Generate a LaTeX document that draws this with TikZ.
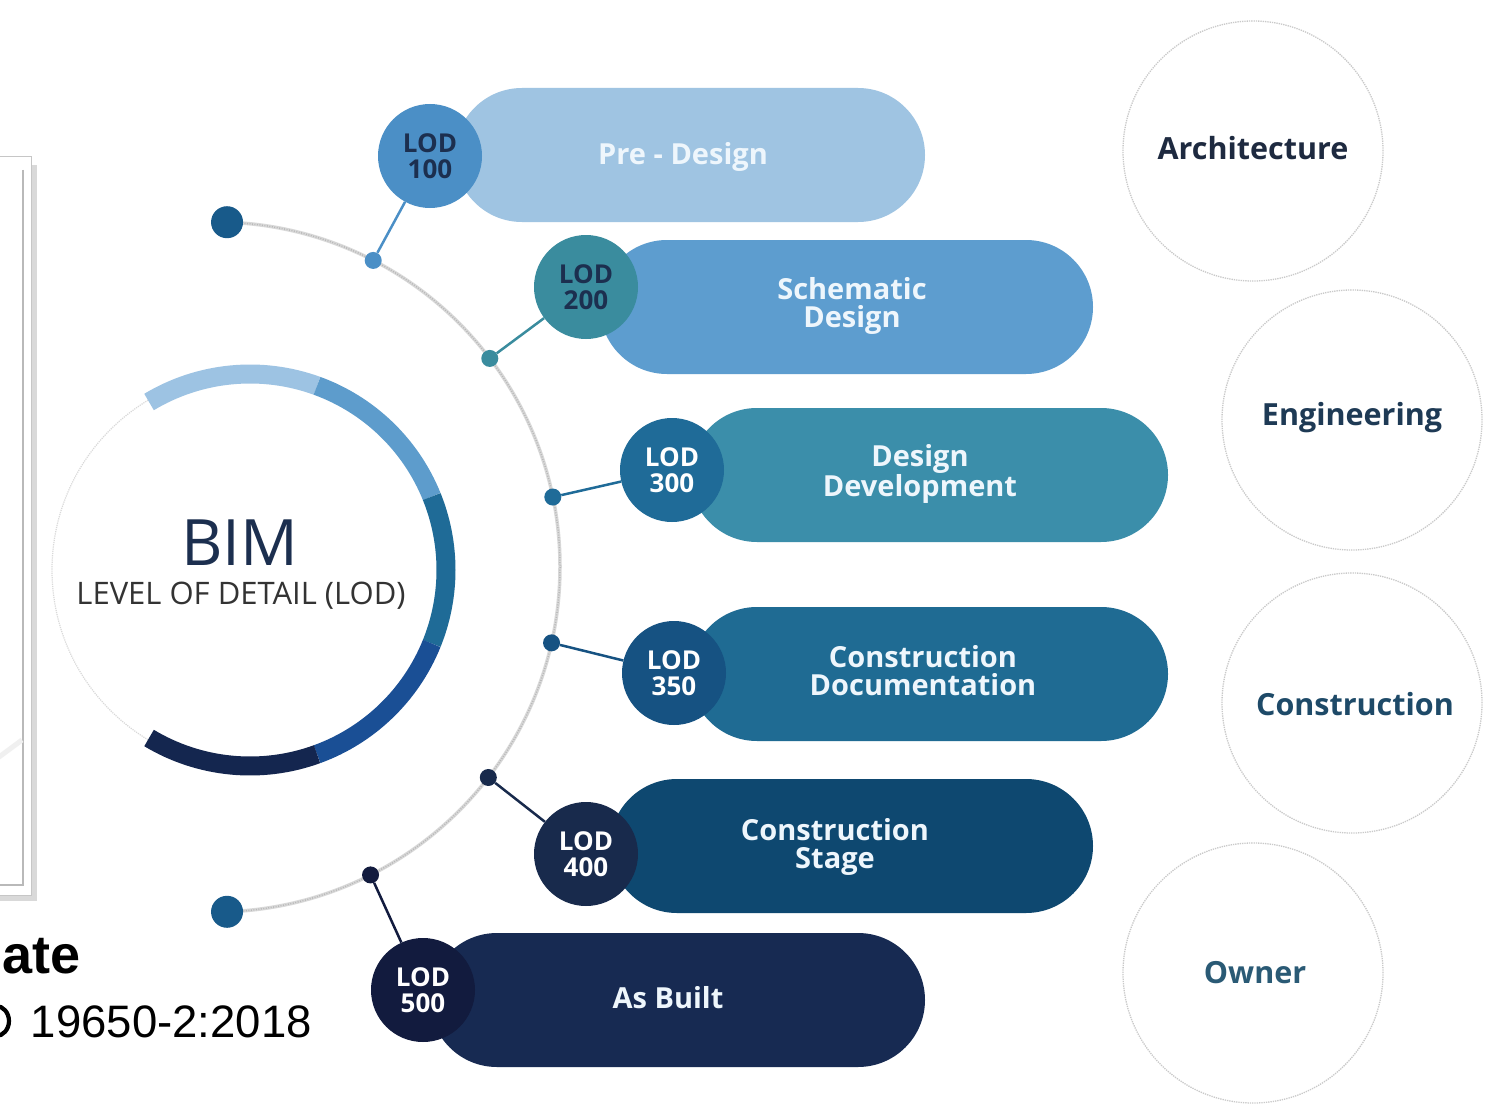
\documentclass[tikz,border=0pt]{standalone}
\usepackage{fontspec}
\setmainfont{Open Sans}
\newfontfamily\helv{Liberation Sans}
\usetikzlibrary{shapes.misc}
\definecolor{ringA}{HTML}{9DC3E3}
\definecolor{ringB}{HTML}{5D9CCC}
\definecolor{ringC}{HTML}{1F6B97}
\definecolor{ringD}{HTML}{1A4F95}
\definecolor{ringE}{HTML}{14264F}
\definecolor{enddot}{HTML}{185A8A}
\definecolor{cA}{HTML}{4B8FC6}
\definecolor{cB}{HTML}{3A8C9E}
\definecolor{cC}{HTML}{1F6B98}
\definecolor{cD}{HTML}{165282}
\definecolor{cE}{HTML}{182A4C}
\definecolor{cF}{HTML}{121B3E}
\definecolor{pA}{HTML}{9FC4E2}
\definecolor{pB}{HTML}{5D9DCF}
\definecolor{pC}{HTML}{3B8EAA}
\definecolor{pD}{HTML}{1F6B93}
\definecolor{pE}{HTML}{0E4870}
\definecolor{pF}{HTML}{172A52}
\definecolor{pilltxt}{HTML}{EEF6FC}
\definecolor{darktxt}{HTML}{1C2F4F}
\definecolor{rtA}{HTML}{1E2A40}
\definecolor{rtB}{HTML}{1E3A55}
\definecolor{rtC}{HTML}{1E4A68}
\definecolor{rtD}{HTML}{2A5A75}
\begin{document}
\begin{tikzpicture}[x=1pt,y=-1pt,
  lodc/.style={circle, minimum size=104pt, inner sep=0pt, align=center, font=\bfseries\fontsize{26}{26}\selectfont},
  pill/.style={rounded rectangle, minimum height=134pt, inner sep=0pt},
  ptext/.style={text=pilltxt, align=center, font=\bfseries\fontsize{29}{28}\selectfont},
  sdot/.style={circle, minimum size=17pt, inner sep=0pt},
  bdot/.style={circle, minimum size=32pt, inner sep=0pt, fill=enddot},
  conn/.style={line width=2.5pt},
  rc/.style={circle, minimum size=260pt, draw=gray!42, densely dotted, line width=1.3pt, inner sep=0pt},
  rtext/.style={font=\bfseries\fontsize{30.5}{32}\selectfont}
]
\clip (0,0) rectangle (1505,1105);
\fill[white] (0,0) rectangle (1505,1105);

% left frame (cropped)
\fill[gray!30] (-5,165) rectangle (37,901);
\filldraw[fill=white, draw=gray!45, line width=1pt] (-5,157) rectangle (31,895);
\draw[gray!55, line width=2.5pt] (23,170) -- (23,885) -- (-5,885);
\draw[gray!12, line width=6pt] (-40,470) arc[start angle=-60, end angle=60, radius=70];
\draw[gray!12, line width=5pt] (-5,760) -- (22,740);

% cropped text at the lower left
\node[anchor=base east, inner sep=0pt, font=\helv\bfseries\fontsize{54}{60}\selectfont] (ate) at (81,973) {ate};
\draw[black, line width=4.2pt] (-4,1021) ellipse[x radius=13, y radius=15];
\node[anchor=base east, inner sep=0pt, font=\helv\fontsize{45.5}{50}\selectfont] (iso) at (312,1037) {19650-2:2018};

% BIM circle
\coordinate (bimC) at (250,570);
\fill[white] (bimC) circle[radius=197];
\draw[gray!30, densely dotted, line width=1.2pt] (bimC) circle[radius=198];
\begin{scope}[line width=19pt]
\draw[ringA] ([shift={(bimC)}]-121:196) arc[start angle=-121, end angle=-70, radius=196];
\draw[ringB] ([shift={(bimC)}]-70:196) arc[start angle=-70, end angle=-22, radius=196];
\draw[ringC] ([shift={(bimC)}]-22:196) arc[start angle=-22, end angle=22, radius=196];
\draw[ringD] ([shift={(bimC)}]22:196) arc[start angle=22, end angle=70, radius=196];
\draw[ringE] ([shift={(bimC)}]70:196) arc[start angle=70, end angle=121, radius=196];
\end{scope}
\node[text=darktxt, font=\fontsize{64}{64}\selectfont, inner sep=0pt] (bim) at (240,543) {BIM};
\node[text=black!80, font=\fontsize{31}{32}\selectfont, inner sep=0pt] (lodt) at (241,596) {LEVEL OF DETAIL (LOD)};

% big dotted arc
\coordinate (arcC) at (215,567);
\draw[gray!30, line width=3.5pt] ([shift={(arcC)}]-88:345) arc[start angle=-88, end angle=88, radius=345];
\draw[gray!55, line width=1.5pt, dash pattern=on 1pt off 1.5pt] ([shift={(arcC)}]-88:345) arc[start angle=-88, end angle=88, radius=345];
\node[bdot] (e1) at ([shift={(arcC)}]-88:345) {};
\node[bdot] (e2) at ([shift={(arcC)}]88:345) {};
\node[sdot, fill=cA] (d1) at ([shift={(arcC)}]-62.7:345) {};
\node[sdot, fill=cB] (d2) at ([shift={(arcC)}]-37.2:345) {};
\node[sdot, fill=cC] (d3) at ([shift={(arcC)}]-11.7:345) {};
\node[sdot, fill=cD] (d4) at ([shift={(arcC)}]12.7:345) {};
\node[sdot, fill=cE] (d5) at ([shift={(arcC)}]37.6:345) {};
\node[sdot, fill=cF] (d6) at ([shift={(arcC)}]63.2:345) {};

% pills
\node[pill, fill=pA, minimum width=470pt] (p1) at (690,155) {};
\node[pill, fill=pB, minimum width=493pt] (p2) at (846.5,307) {};
\node[pill, fill=pC, minimum width=478pt] (p3) at (929,475) {};
\node[pill, fill=pD, minimum width=478pt] (p4) at (929,674) {};
\node[pill, fill=pE, minimum width=483pt] (p5) at (851.5,846) {};
\node[pill, fill=pF, minimum width=495pt] (p6) at (677.5,1000) {};

% LOD circles
\node[lodc, fill=cA, text=darktxt] (l1) at (430,156) {LOD\\100};
\node[lodc, fill=cB, text=darktxt] (l2) at (586,287) {LOD\\200};
\node[lodc, fill=cC, text=white] (l3) at (672,470) {LOD\\300};
\node[lodc, fill=cD, text=white] (l4) at (674,673) {LOD\\350};
\node[lodc, fill=cE, text=white] (l5) at (586,854) {LOD\\400};
\node[lodc, fill=cF, text=white] (l6) at (423,990) {LOD\\500};

% connectors
\draw[conn, cA] (d1) -- (l1);
\draw[conn, cB] (d2) -- (l2);
\draw[conn, cC] (d3) -- (l3);
\draw[conn, cD] (d4) -- (l4);
\draw[conn, cE] (d5) -- (l5);
\draw[conn, cF] (d6) -- (l6);

% pill texts
\node[ptext] (t1) at (683,157) {Pre - Design};
\node[ptext] (t2) at (852,306) {Schematic\\Design};
\node[ptext] (t3) at (920,474) {Design\\Development};
\node[ptext] (t4) at (923,671) {Construction\\Documentation};
\node[ptext] (t5) at (835,847) {Construction\\Stage};
\node[ptext] (t6) at (668,998) {As Built};

% right circles
\node[rc] (r1) at (1253,151) {};
\node[rc] (r2) at (1352,420) {};
\node[rc] (r3) at (1352,703) {};
\node[rc] (r4) at (1253,973) {};
\node[rtext, text=rtA] (a1) at (1253,148) {Architecture};
\node[rtext, text=rtB] (a2) at (1352,418) {Engineering};
\node[rtext, text=rtC] (a3) at (1355,704) {Construction};
\node[rtext, text=rtD] (a4) at (1255,973) {Owner};
\end{tikzpicture}
\end{document}
